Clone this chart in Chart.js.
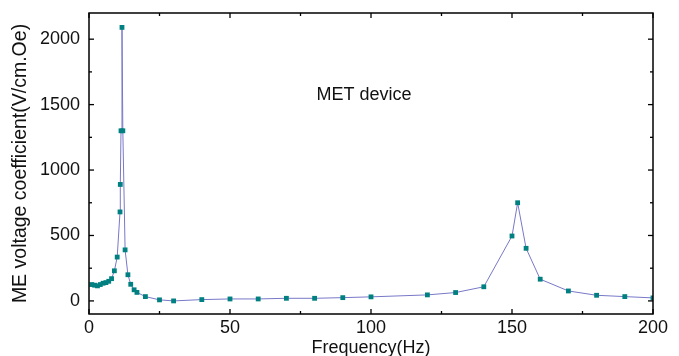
<!DOCTYPE html>
<html><head><meta charset="utf-8">
<script src="https://cdn.jsdelivr.net/npm/chart.js@4/dist/chart.umd.min.js"></script>
<style>html,body{margin:0;padding:0;background:#fff}#wrap{width:679px;height:356px;position:relative}</style>
</head><body><div id="wrap"><canvas id="c" width="679" height="356"></canvas></div>
<script>
const frequency = [1,2,3,4,5,6,7,8,9,10,11,11.1,11.35,11.7,12,12.8,13.8,14.8,16,17,20,25,30,40,50,60,70,80,90,100,120,130,140,150,152,155,160,170,180,190,200];
const meCoefficient = [125,120,115,125,135,140,150,170,230,335,680,890,1300,2090,1300,390,200,127,85,65,33,8,0,10,15,15,20,20,25,31,46,64,108,496,750,402,166,76,43,33,23];
const xTicks = [0,50,100,150,200];
const yTicks = [0,500,1000,1500,2000];
const xMinor = [25,75,125,175];
const yMinor = [250,750,1250,1750];
const annotationText = "MET device";

const pts = frequency.map((f,i)=>({x:f,y:meCoefficient[i]}));
const FONT = "'Liberation Sans', Arial, sans-serif";

const framePlugin = {
  id:'frame',
  afterDatasetsDraw(chart){
    const {ctx, chartArea:a, scales:{x,y}} = chart;
    ctx.save();
    ctx.strokeStyle='#000';
    ctx.lineWidth=1.5;
    ctx.strokeRect(a.left, a.top, a.right-a.left, a.bottom-a.top);
    ctx.lineWidth=1.3;
    const tick=(x1,y1,x2,y2)=>{ctx.beginPath();ctx.moveTo(x1,y1);ctx.lineTo(x2,y2);ctx.stroke();};
    xTicks.forEach(v=>{const p=x.getPixelForValue(v);tick(p,a.bottom,p,a.bottom-5);tick(p,a.top,p,a.top+5);});
    xMinor.forEach(v=>{const p=x.getPixelForValue(v);tick(p,a.bottom,p,a.bottom-3);tick(p,a.top,p,a.top+3);});
    yTicks.forEach(v=>{const p=y.getPixelForValue(v);tick(a.left,p,a.left+5,p);tick(a.right,p,a.right-5,p);});
    yMinor.forEach(v=>{const p=y.getPixelForValue(v);tick(a.left,p,a.left+3,p);tick(a.right,p,a.right-3,p);});
    ctx.fillStyle='#111';
    ctx.font="18px "+FONT;
    ctx.textAlign='center';ctx.textBaseline='middle';
    ctx.fillText(annotationText, x.getPixelForValue(97.5), y.getPixelForValue(1570));
    ctx.restore();
  }
};

new Chart(document.getElementById('c'),{
  type:'line',
  data:{datasets:[{
    data:pts,
    borderColor:'rgb(120,120,200)',
    borderWidth:1,
    pointStyle:'rect',
    pointRadius:3.4,
    pointBackgroundColor:'rgb(0,128,128)',
    pointBorderColor:'rgb(0,128,128)',
    pointBorderWidth:0,
    tension:0,
    fill:false
  }]},
  options:{
    responsive:false,animation:false,
    layout:{padding:{top:13,right:26,left:0,bottom:0}},
    plugins:{legend:{display:false},tooltip:{enabled:false}},
    scales:{
      x:{type:'linear',min:0,max:200,
        afterBuildTicks(s){s.ticks=xTicks.map(v=>({value:v}));},
        afterFit(s){s.height=42;s.paddingLeft=0;s.paddingRight=0;},
        grid:{display:false,drawTicks:false},border:{display:false},
        ticks:{color:'#111',font:{family:FONT,size:18},padding:3,maxRotation:0,callback:v=>String(v)},
        title:{display:true,text:'Frequency(Hz)',color:'#111',font:{family:FONT,size:18},padding:{top:0,bottom:-3}}
      },
      y:{type:'linear',min:-100,max:2200,
        afterBuildTicks(s){s.ticks=yTicks.map(v=>({value:v}));},
        afterFit(s){s.width=89;s.paddingTop=0;s.paddingBottom=0;},
        grid:{display:false,drawTicks:false},border:{display:false},
        ticks:{color:'#111',font:{family:FONT,size:18},padding:9,callback:v=>String(v)},
        title:{display:true,text:'ME voltage coefficient(V/cm.Oe)',color:'#111',font:{family:FONT,size:19.5},padding:{top:9,bottom:0}}
      }
    }
  },
  plugins:[framePlugin]
});
</script></body></html>
